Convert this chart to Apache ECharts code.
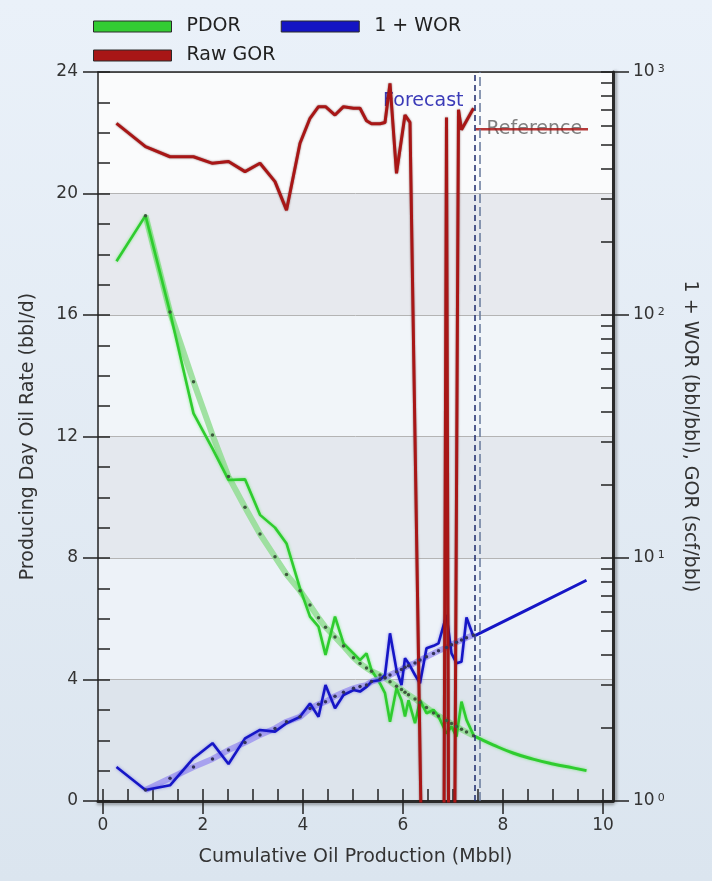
<!DOCTYPE html>
<html>
<head>
<meta charset="utf-8">
<script src="https://cdn.jsdelivr.net/npm/echarts@6/dist/echarts.min.js"></script>
<style>
html,body{margin:0;padding:0;}
#main{width:712px;height:881px;}
</style>
</head>
<body>
<div id="main"></div>
<script>
// cumulative oil (Mbbl) of each month
const cum = [0.27, 0.85, 1.34, 1.81, 2.19, 2.51, 2.84, 3.14, 3.44, 3.67, 3.94, 4.14, 4.31, 4.45, 4.64, 4.81, 5.01, 5.14, 5.27, 5.37,
  5.54, 5.64, 5.74, 5.87, 5.97, 6.04, 6.11, 6.24, 6.34, 6.47, 6.61, 6.71, 6.87, 6.97, 7.07, 7.17, 7.27, 7.41];
const pdor = [17.77, 19.27, 16.1, 12.76, 11.6, 10.57, 10.59, 9.42, 9.0, 8.48, 7.0, 6.07, 5.74, 4.81, 6.07, 5.19, 4.86, 4.64, 4.86, 4.31,
  3.87, 3.55, 2.61, 3.71, 3.32, 2.78, 3.32, 2.56, 3.32, 2.89, 3.0, 2.78, 2.22, 2.45, 2.12, 3.27, 2.67, 2.17];
const pdorFit = [null, 19.27, 16.1, 13.8, 12.05, 10.68, 9.67, 8.79, 8.04, 7.46, 6.92, 6.45, 6.03, 5.72, 5.4, 5.1, 4.72, 4.53, 4.38, 4.27,
  4.15, 4.05, 3.93, 3.78, 3.67, 3.58, 3.5, 3.36, 3.24, 3.08, 2.9, 2.8, 2.65, 2.55, 2.45, 2.36, 2.27, 2.15];
const wor = [1.38, 1.11, 1.16, 1.5, 1.73, 1.42, 1.81, 1.96, 1.93, 2.09, 2.22, 2.52, 2.22, 3.0, 2.41, 2.73, 2.86, 2.82, 2.95, 3.1,
  3.15, 3.3, 4.9, 3.46, 3.0, 3.87, 3.69, 3.3, 3.05, 4.25, 4.35, 4.45, 5.83, 4.05, 3.69, 3.74, 5.7, 4.74];
const worFit = [null, 1.11, 1.24, 1.38, 1.49, 1.62, 1.74, 1.87, 1.99, 2.12, 2.22, 2.4, 2.5, 2.56, 2.7, 2.8, 2.91, 2.96, 3.0, 3.1,
  3.18, 3.22, 3.3, 3.4, 3.48, 3.55, 3.6, 3.7, 3.8, 3.92, 4.05, 4.15, 4.28, 4.4, 4.5, 4.6, 4.7, 4.82];

// raw GOR (scf/bbl), zero months drawn below the axis
const gorCum = [0.27, 0.85, 1.34, 1.81, 2.19, 2.51, 2.84, 3.14, 3.44, 3.67, 3.94, 4.14, 4.31, 4.45, 4.64, 4.81, 5.01, 5.14, 5.27, 5.37,
  5.54, 5.64, 5.74, 5.87, 6.04, 6.14, 6.41, 6.6, 6.81, 6.87, 6.92, 7.02, 7.11, 7.17, 7.41];
const gor = [615, 493, 448, 448, 421, 428, 389, 421, 354, 270, 509, 645, 720, 720, 665, 720, 709, 709, 630, 612,
  612, 620, 898, 383, 665, 620, 0.2, 0.2, 0.2, 650, 0.2, 0.2, 700, 578, 709];

// forecast
const fcCum = [7.45, 7.8, 8.2, 8.6, 9.0, 9.4, 9.67];
const fcPdor = [2.12, 1.85, 1.58, 1.38, 1.22, 1.09, 1.0];
const fcWorCum = [7.45, 8.5, 9.67];
const fcWor = [4.8, 6.15, 8.1];
const refCum = [7.45, 9.7];
const refGor = [581, 581];
const forecastAt = 7.43;
const referenceAt = 7.53;

const xLabels = [0, 2, 4, 6, 8, 10];
const xMinor = [];
for (let v = 0; v <= 10; v += 0.5) xMinor.push(v);
const yMinor = [];
for (let v = 0; v <= 24; v += 1) yMinor.push(v);
const logMinor = [];
[1, 10, 100].forEach(d => { for (let k = 1; k < 10; k++) logMinor.push(k * d); });
logMinor.push(1000);

const FONT = '"DejaVu Sans", Verdana, sans-serif';
const pairs = (xs, ys) => xs.map((x, i) => [x, ys[i]]);

const chart = echarts.init(document.getElementById('main'));

const legendBase = {
  left: 93, itemWidth: 78, itemHeight: 11, itemGap: 40, icon: 'rect', padding: 0,
  selectedMode: false,
  textStyle: { fontFamily: FONT, fontSize: 19, color: '#222', padding: [0, 0, 0, 10] }
};
const sw = c => ({ color: c, borderColor: '#2a2a2a', borderWidth: 1 });
// inner (minor) ticks: drawn towards the plot
const innerTick = vals => ({ customValues: vals, inside: false, length: -12, lineStyle: { color: '#222', width: 1.5 } });

chart.setOption({
  animation: false,
  backgroundColor: new echarts.graphic.LinearGradient(0, 0, 0, 1, [
    { offset: 0, color: '#eaf1f9' }, { offset: 1, color: '#dbe5ef' }]),
  textStyle: { fontFamily: FONT },
  legend: [
    Object.assign({}, legendBase, { top: 17, data: [{ name: 'PDOR', itemStyle: sw('#33cc33') }, { name: '1 + WOR', itemStyle: sw('#1414c4') }] }),
    Object.assign({}, legendBase, { top: 46, data: [{ name: 'Raw GOR', itemStyle: sw('#a81616') }] })
  ],
  grid: { left: 98, right: 99, top: 72, bottom: 80, outerBoundsMode: 'none' },
  xAxis: [
    {
      type: 'value', position: 'bottom', min: -0.1, max: 10.2,
      name: 'Cumulative Oil Production (Mbbl)', nameLocation: 'middle', nameGap: 47,
      nameTextStyle: { fontSize: 19, color: '#333', fontFamily: FONT },
      axisLine: { onZero: false, lineStyle: { color: '#2b2b2b', width: 3, shadowColor: 'rgba(0,0,0,0.35)', shadowBlur: 3, shadowOffsetY: 2 } },
      axisTick: { customValues: xLabels, length: 13, lineStyle: { color: '#222', width: 1.5 } },
      axisLabel: { customValues: xLabels, margin: 16, fontSize: 17, color: '#333', fontFamily: FONT },
      splitLine: { show: false }
    },
    {
      type: 'value', position: 'bottom', min: -0.1, max: 10.2,
      axisLine: { show: false, onZero: false },
      axisTick: innerTick(xMinor),
      axisLabel: { show: false }, splitLine: { show: false }
    },
    {
      type: 'value', position: 'top', min: -0.1, max: 10.2,
      axisLine: { onZero: false, lineStyle: { color: '#222', width: 1.5 } },
      axisTick: { show: false }, axisLabel: { show: false }, splitLine: { show: false }
    }
  ],
  yAxis: [
    {
      type: 'value', position: 'left', min: 0, max: 24, interval: 4,
      name: 'Producing Day Oil Rate (bbl/d)', nameLocation: 'middle', nameGap: 60,
      nameTextStyle: { fontSize: 19, color: '#333', fontFamily: FONT },
      axisLine: { onZero: false, lineStyle: { color: '#222', width: 1.5 } },
      axisTick: { length: 15, lineStyle: { color: '#222', width: 1.5 } },
      axisLabel: { margin: 20, fontSize: 17, color: '#333', fontFamily: FONT },
      splitLine: { lineStyle: { color: '#b4b4b4', width: 1 } },
      splitArea: { show: true, areaStyle: { color: ['#dde4ec', '#edf2f8', '#e4e8ee', '#f1f5f9', '#e7e9ee', '#fafbfc'] } }
    },
    {
      type: 'value', position: 'left', min: 0, max: 24,
      axisLine: { show: false, onZero: false },
      axisTick: innerTick(yMinor),
      axisLabel: { show: false }, splitLine: { show: false }
    },
    {
      type: 'log', position: 'right', min: 1, max: 1000, logBase: 10,
      name: '1 + WOR (bbl/bbl), GOR (scf/bbl)', nameLocation: 'middle', nameGap: 67, nameRotate: -90,
      nameTextStyle: { fontSize: 19, color: '#333', fontFamily: FONT },
      axisLine: { onZero: false, lineStyle: { color: '#2b2b2b', width: 3, shadowColor: 'rgba(0,0,0,0.35)', shadowBlur: 3, shadowOffsetX: 2 } },
      axisTick: { length: 16, lineStyle: { color: '#222', width: 1.5 } },
      axisLabel: {
        margin: 20, color: '#333',
        formatter: v => '{b|10}{s|' + Math.round(Math.log10(v)) + '}',
        rich: {
          b: { fontSize: 17, fontFamily: FONT, color: '#333' },
          s: { fontSize: 11, fontFamily: FONT, color: '#333', verticalAlign: 'top', padding: [0, 0, 0, 3] }
        }
      },
      splitLine: { show: false }
    },
    {
      type: 'log', position: 'right', min: 1, max: 1000, logBase: 10,
      axisLine: { show: false, onZero: false },
      axisTick: innerTick(logMinor),
      axisLabel: { show: false }, splitLine: { show: false }
    }
  ],
  series: [
    {
      name: 'PDOR fit', type: 'line', data: pairs(cum, pdorFit), yAxisIndex: 0,
      symbol: 'circle', symbolSize: 3.5, itemStyle: { color: '#3d5a3d' },
      lineStyle: { color: 'rgba(140,220,140,0.8)', width: 6 }
    },
    {
      name: 'PDOR', type: 'line', data: pairs(cum, pdor), yAxisIndex: 0, showSymbol: false,
      itemStyle: { color: '#33cc33' },
      lineStyle: { color: '#2fcc2f', width: 2.6, shadowColor: 'rgba(60,230,60,0.6)', shadowBlur: 3 }
    },
    {
      name: 'PDOR forecast', type: 'line', data: pairs(fcCum, fcPdor), yAxisIndex: 0, showSymbol: false, smooth: true,
      lineStyle: { color: '#2fcc2f', width: 3, shadowColor: 'rgba(60,230,60,0.6)', shadowBlur: 3 }
    },
    {
      name: '1 + WOR fit', type: 'line', data: pairs(cum, worFit), yAxisIndex: 2,
      symbol: 'circle', symbolSize: 3.5, itemStyle: { color: '#33335a' },
      lineStyle: { color: 'rgba(150,140,240,0.75)', width: 6 }
    },
    {
      name: '1 + WOR', type: 'line', data: pairs(cum, wor), yAxisIndex: 2, showSymbol: false,
      itemStyle: { color: '#1414c4' },
      lineStyle: { color: '#1616c6', width: 2.6, shadowColor: 'rgba(60,60,230,0.5)', shadowBlur: 3 }
    },
    {
      name: '1 + WOR forecast', type: 'line', data: pairs(fcWorCum, fcWor), yAxisIndex: 2, showSymbol: false,
      lineStyle: { color: '#1616c6', width: 3 }
    },
    {
      name: 'Raw GOR', type: 'line', data: pairs(gorCum, gor), yAxisIndex: 2, showSymbol: false,
      itemStyle: { color: '#a81616' },
      lineStyle: { color: '#a81616', width: 3, shadowColor: 'rgba(70,0,0,0.6)', shadowBlur: 2 }
    },
    {
      name: 'GOR reference', type: 'line', data: pairs(refCum, refGor), yAxisIndex: 2, showSymbol: false,
      lineStyle: { color: 'rgba(168,22,22,0.85)', width: 2.5 },
      markLine: {
        silent: true, symbol: ['none', 'none'], label: { show: false },
        data: [
          { xAxis: forecastAt, lineStyle: { color: '#1c2a6c', type: [6, 4], width: 1.5 } },
          { xAxis: referenceAt, lineStyle: { color: '#66789a', type: [9, 4], width: 1.5 } }
        ]
      }
    }
  ]
});

// annotation texts, placed through the axes
const fcPos = chart.convertToPixel({ xAxisIndex: 0, yAxisIndex: 0 }, [forecastAt - 0.22, 23.05]);
const refPos = chart.convertToPixel({ xAxisIndex: 0, yAxisIndex: 2 }, [referenceAt + 0.14, refGor[0]]);
chart.setOption({
  graphic: [
    { type: 'text', x: fcPos[0], y: fcPos[1], z: 1,
      style: { text: 'Forecast', fill: '#3b3bb8', font: '19px ' + FONT, align: 'right', verticalAlign: 'middle' } },
    { type: 'text', x: refPos[0], y: refPos[1], z: 1,
      style: { text: 'Reference', fill: '#808080', font: '19px ' + FONT, align: 'left', verticalAlign: 'middle' } }
  ]
});
</script>
</body>
</html>
